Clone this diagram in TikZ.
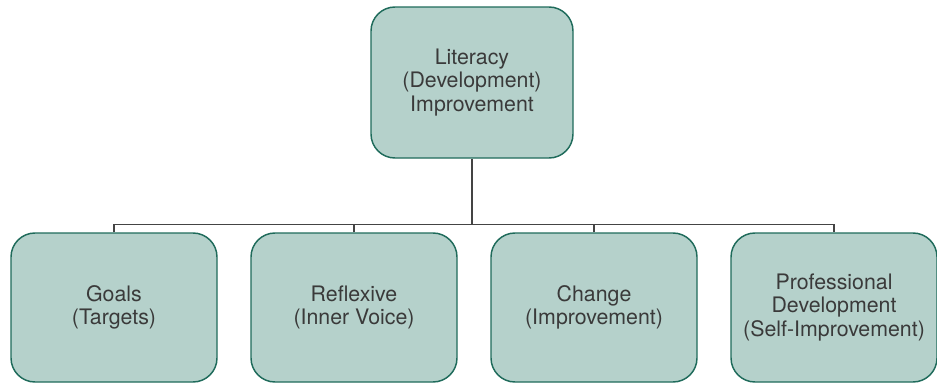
\documentclass[tikz,border=0pt]{standalone}
\usepackage{fontspec}
\setmainfont{TeX Gyre Heros}
\usepackage{xcolor}
\usepackage{tikz}
\usetikzlibrary{positioning}
\definecolor{boxfill}{HTML}{B5D1CB}
\definecolor{boxline}{HTML}{1F6B5B}
\definecolor{ink}{HTML}{3A3A3A}
\definecolor{wire}{HTML}{444444}
\tikzset{
  block/.style={
    draw=boxline, fill=boxfill, rounded corners=18pt, line width=1.1pt,
    minimum width=154.5pt, minimum height=111.75pt, align=center,
    text=ink, font=\fontsize{16}{17.6}\selectfont
  },
  topblock/.style={block, minimum width=151.5pt, minimum height=113.25pt},
  link/.style={draw=wire, line width=1.1pt}
}

\begin{document}
\begin{tikzpicture}[x=0.75pt, y=-0.75pt, node distance=24.4pt]
  \useasboundingbox (0,0) rectangle (937,382);

  \node[topblock] (literacy) at (472,82.5) {Literacy\\(Development)\\Improvement};

  \node[block] (goals) at (114,307.5) {Goals\\(Targets)};
  \node[block, right=of goals] (reflexive) {Reflexive\\(Inner Voice)};
  \node[block, right=of reflexive] (change) {Change\\(Improvement)};
  \node[block, right=of change] (profdev) {Professional\\Development\\(Self-Improvement)};

  \coordinate (bus) at ([yshift=6pt]goals.north -| literacy.south);

  \draw[link] (literacy.south) -- (bus);
  \draw[link] (goals.north) |- (bus) -| (profdev.north);
  \draw[link] (reflexive.north) -- (reflexive.north |- bus);
  \draw[link] (change.north) -- (change.north |- bus);
\end{tikzpicture}
\end{document}
